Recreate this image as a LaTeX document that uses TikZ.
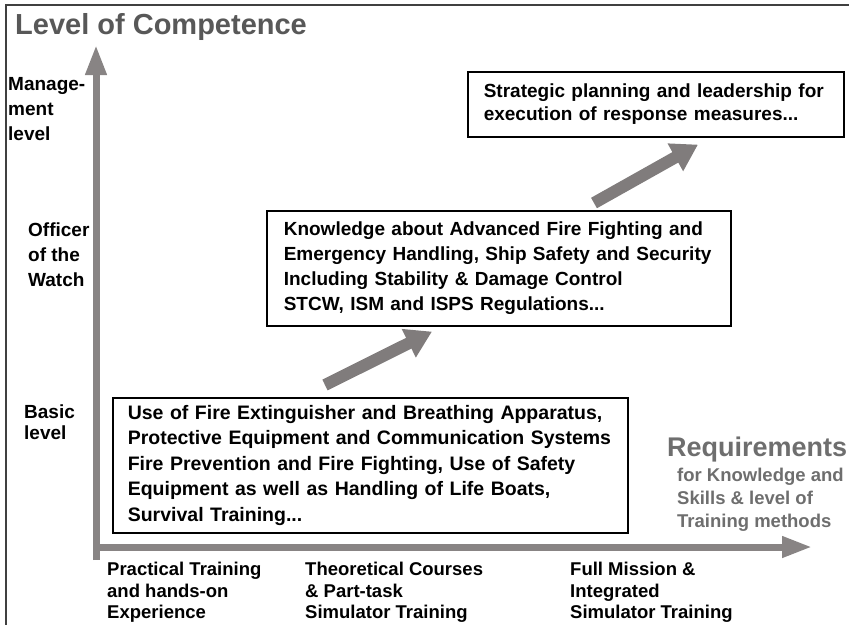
\documentclass[tikz,border=0pt]{standalone}
\usepackage{fontspec}
\setmainfont{Liberation Sans}
\usetikzlibrary{calc,arrows.meta}

\definecolor{axisgray}{RGB}{136,132,132}
\definecolor{risegray}{RGB}{128,124,124}
\definecolor{titlegray}{RGB}{88,88,88}
\definecolor{reqgray}{RGB}{110,110,110}

\tikzset{
  level/.style={anchor=north west, align=left, font=\bfseries\fontsize{19}{25}\selectfont},
  train/.style={anchor=north west, align=left, font=\bfseries\fontsize{18.5}{21.5}\selectfont},
  box/.style={draw, line width=1.6pt, anchor=north west, align=left, inner ysep=0pt},
  axis/.style={line width=7pt, axisgray, -{Triangle[width=20pt,length=30pt]}},
  rise/.style={line width=12pt, risegray, -{Triangle[width=30pt,length=26pt]}}
}

\begin{document}
\begin{tikzpicture}[x=1pt, y=-1pt, every node/.style={inner sep=0pt, font=\bfseries}]
    \useasboundingbox (0,0) rectangle (849,625);

    % frame
    \draw[line width=1.2pt, black!75] (849,5) -- (6,5) -- (6,625);

    \node[anchor=north west, text=titlegray, font=\bfseries\fontsize{29}{32}\selectfont] (title) at (15,13) {Level of Competence};

    % levels on the vertical axis
    \node[level] (mgmt) at (8,77) {Manage-\\ment\\level};
    \node[level] (oow) at (28,223) {Officer\\of the\\Watch};
    \node[level, font=\bfseries\fontsize{19}{21}\selectfont] (basic) at (24,405) {Basic\\level};

    % axes
    \coordinate (origin) at (93,547);
    \coordinate (xend) at (812,547);
    \coordinate (ybot) at (96,560);
    \coordinate (yend) at (96,45);
    \draw[axis] (origin) -- (xend);
    \draw[axis] (ybot) -- (yend);

    % competence boxes
    \node[box, text width=485pt, minimum height=135pt, inner xsep=15pt,
          font=\bfseries\fontsize{19.5}{25.5}\selectfont] (bx1) at (112,397)
        {Use of Fire Extinguisher and Breathing Apparatus,\\
         Protective Equipment and Communication Systems\\
         Fire Prevention and Fire Fighting, Use of Safety\\
         Equipment as well as Handling of Life Boats,\\
         Survival Training...};

    \node[box, text width=430pt, minimum height=115pt, inner xsep=17pt,
          font=\bfseries\fontsize{19}{25}\selectfont] (bx2) at (266,210)
        {Knowledge about Advanced Fire Fighting and\\
         Emergency Handling, Ship Safety and Security\\
         Including Stability \& Damage Control\\
         STCW, ISM and ISPS Regulations...};

    \node[box, text width=344pt, minimum height=65pt, inner xsep=16pt,
          font=\bfseries\fontsize{19}{23}\selectfont] (bx3) at (467,71)
        {Strategic planning and leadership for\\
         execution of response measures...};

    % steps up
    \draw[rise] ($(bx1.north west)+(213,-12)$) -- ($(bx2.south west)+(166,5)$);
    \draw[rise] ($(bx2.north west)+(328,-7)$) -- ($(bx3.south west)+(231,7)$);

    % requirements
    \node[anchor=north west, text=reqgray, font=\bfseries\fontsize{27}{30}\selectfont] (req) at (667,437) {Requirements};
    \node[anchor=north west, align=left, text=reqgray, font=\bfseries\fontsize{18.5}{23}\selectfont] (reqsub) at (677,468)
        {for Knowledge and\\Skills \& level of\\Training methods};

    % training methods on the horizontal axis
    \node[train] (prac) at (107,562) {Practical Training\\and hands-on\\Experience};
    \node[train] (theo) at (305,562) {Theoretical Courses\\\& Part-task\\Simulator Training};
    \node[train] (full) at (570,562) {Full Mission \&\\Integrated\\Simulator Training};

\end{tikzpicture}
\end{document}
